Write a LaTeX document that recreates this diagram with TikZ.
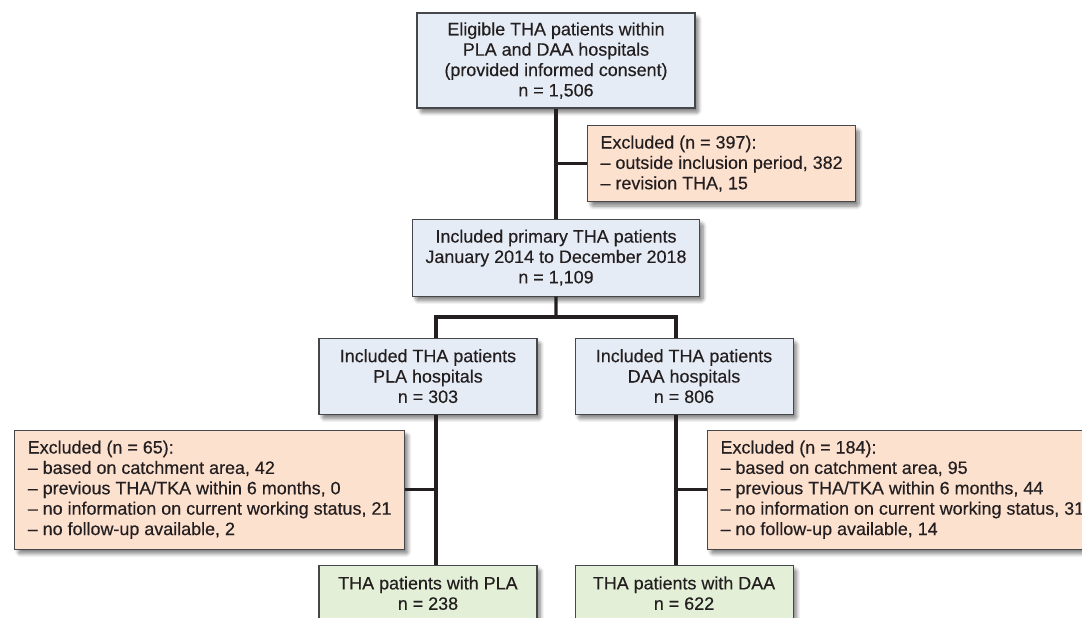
\documentclass[tikz,border=0pt]{standalone}
\usepackage{fontspec}
\setmainfont{Liberation Sans}[FakeBold=0.35]
\usepackage{xcolor}
\usepackage{tikz}
\usetikzlibrary{positioning,calc,shadows.blur}
\definecolor{boxblue}{HTML}{E6ECF5}
\definecolor{boxorange}{HTML}{FDE1CF}
\definecolor{boxgreen}{HTML}{E3EFD6}
\definecolor{boxline}{HTML}{46474B}
\definecolor{ink}{HTML}{231F20}

\begin{document}
\begin{tikzpicture}[
  box/.style={rectangle, draw=boxline, line width=0.6pt, text=ink,
              inner xsep=0.26cm, align=center,
              font=\fontsize{10.2}{11.6}\selectfont,
              blur shadow={shadow xshift=0.07cm, shadow yshift=-0.09cm,
                           shadow blur steps=8, shadow blur extra rounding=1pt,
                           shadow opacity=50}},
  stage/.style={box, fill=boxblue, minimum width=4.36cm, minimum height=1.52cm},
  excl/.style={box, fill=boxorange, align=left},
  result/.style={box, fill=boxgreen, minimum width=4.36cm, minimum height=1.12cm},
  link/.style={line width=1.9pt, draw=ink},
]
\useasboundingbox (0,0) rectangle (21.64,-12.34);
\clip (0,0) rectangle (21.64,-12.34);

% Enrolment
\node[stage, minimum width=5.56cm, minimum height=1.9cm] (eligible) at (11.12,-1.21)
  {Eligible THA patients within\\PLA and DAA hospitals\\(provided informed consent)\\n = 1,506};
\node[stage, minimum width=5.56cm, minimum height=1.54cm, below=2.2cm of eligible] (included)
  {Included primary THA patients\\January 2014 to December 2018\\n = 1,109};
\coordinate (split1) at ($(eligible.south)!0.5!(included.north)$);
\node[excl, minimum width=5.08cm, minimum height=1.52cm, right=0.62cm of split1] (exc1)
  {Excluded (n = 397):\\-- outside inclusion period, 382\\-- revision THA, 15};

% Allocation
\node[stage, below left=0.82cm and 0.37cm of included.south] (pla)
  {Included THA patients\\PLA hospitals\\n = 303};
\node[stage, below right=0.82cm and 0.37cm of included.south] (daa)
  {Included THA patients\\DAA hospitals\\n = 806};
\coordinate (fork) at ($(included.south)!0.5!(included.south |- pla.north)$);

% Analysis
\node[result, below=3.0cm of pla] (plares) {THA patients with PLA\\n = 238};
\node[result, below=3.0cm of daa] (daares) {THA patients with DAA\\n = 622};
\coordinate (split2) at ($([xshift=0.16cm]pla.south)!0.5!([xshift=0.16cm]plares.north)$);
\coordinate (split3) at ($([xshift=-0.16cm]daa.south)!0.5!([xshift=-0.16cm]daares.north)$);
\node[excl, minimum height=2.38cm, left=0.62cm of split2] (exc2)
  {Excluded (n = 65):\\-- based on catchment area, 42\\-- previous THA/TKA within 6 months, 0\\-- no information on current working status, 21\\-- no follow-up available, 2};
\node[excl, minimum height=2.38cm, right=0.62cm of split3] (exc3)
  {Excluded (n = 184):\\-- based on catchment area, 95\\-- previous THA/TKA within 6 months, 44\\-- no information on current working status, 31\\-- no follow-up available, 14};

% Connectors
\draw[link] (eligible) -- (included);
\draw[link] (split1) -- (exc1);
\draw[link] (included) -- (fork);
\draw[link] ([xshift=0.16cm]pla.north) |- (fork) -| ([xshift=-0.16cm]daa.north);
\draw[link] ([xshift=0.16cm]pla.south) -- ([xshift=0.16cm]plares.north);
\draw[link] ([xshift=-0.16cm]daa.south) -- ([xshift=-0.16cm]daares.north);
\draw[link] (split2) -- (exc2);
\draw[link] (split3) -- (exc3);
\end{tikzpicture}
\end{document}
